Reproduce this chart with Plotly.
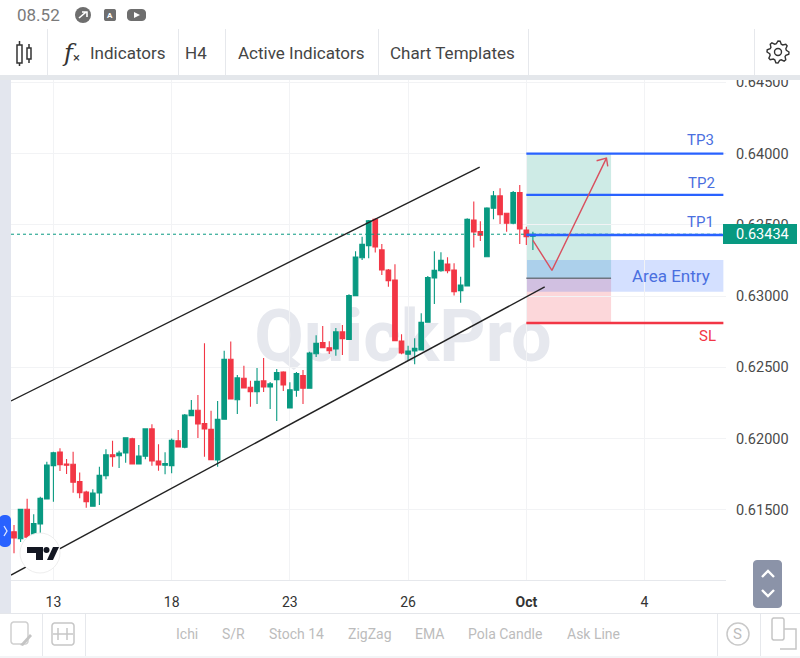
import math
import plotly.graph_objects as go

# ---------- chart data ----------
opens = [0.61345,0.61296,0.61503,0.61327,0.61399,0.61575,0.61809,0.61905,0.61821,0.61819,
         0.61697,0.61624,0.61524,0.61617,0.61739,0.61886,0.61879,0.61898,0.61998,0.61821,
         0.61875,0.62067,0.61842,0.61812,0.61809,0.61984,0.61938,0.62160,0.62198,0.62104,
         0.62064,0.61849,0.62135,0.62556,0.62272,0.62423,0.62360,0.62329,0.62404,0.62361,
         0.62413,0.62467,0.62214,0.62338,0.62441,0.62352,0.62595,0.62673,0.62637,0.62628,
         0.62748,0.62696,0.63003,0.63269,0.63354,0.63539,0.63324,0.63183,0.63113,0.62684,
         0.62591,0.62614,0.62621,0.62816,0.63127,0.63178,0.63225,0.63183,0.63038,0.63071,
         0.63534,0.63452,0.63276,0.63616,0.63703,0.63581,0.63511,0.63726,0.63464,0.63420]
highs = [0.61392,0.61505,0.61577,0.61468,0.61591,0.61837,0.61907,0.61931,0.61856,0.61907,
         0.61760,0.61633,0.61643,0.61802,0.61924,0.61984,0.61914,0.62008,0.62005,0.61954,
         0.62069,0.62099,0.61959,0.61903,0.62000,0.62060,0.62172,0.62270,0.62305,0.62668,
         0.62195,0.62263,0.62616,0.62680,0.62446,0.62511,0.62406,0.62495,0.62565,0.62397,
         0.62488,0.62472,0.62394,0.62467,0.62481,0.62609,0.62725,0.62790,0.62682,0.62776,
         0.62797,0.63012,0.63314,0.63417,0.63534,0.63546,0.63366,0.63190,0.63223,0.62732,
         0.62651,0.62703,0.62879,0.63141,0.63314,0.63307,0.63272,0.63230,0.63136,0.63546,
         0.63663,0.63525,0.63623,0.63738,0.63757,0.63585,0.63738,0.63780,0.63487,0.63452]
lows = [0.61194,0.61273,0.61287,0.61299,0.61334,0.61575,0.61556,0.61772,0.61751,0.61619,
        0.61580,0.61514,0.61524,0.61533,0.61713,0.61802,0.61793,0.61830,0.61821,0.61821,
        0.61854,0.61809,0.61774,0.61748,0.61755,0.61938,0.61931,0.62158,0.62003,0.61872,
        0.61849,0.61802,0.62135,0.62277,0.62172,0.62354,0.62223,0.62242,0.62326,0.62207,
        0.62123,0.62333,0.62214,0.62293,0.62242,0.62352,0.62572,0.62633,0.62593,0.62581,
        0.62586,0.62696,0.63003,0.63253,0.63265,0.63305,0.63148,0.63066,0.62687,0.62591,
        0.62551,0.62521,0.62621,0.62816,0.62944,0.63171,0.63160,0.63003,0.62953,0.63071,
        0.63340,0.63387,0.63276,0.63539,0.63506,0.63452,0.63504,0.63366,0.63359,0.63324]
closes = [0.61301,0.61503,0.61306,0.61402,0.61580,0.61814,0.61900,0.61816,0.61812,0.61692,
          0.61619,0.61556,0.61617,0.61741,0.61886,0.61872,0.61898,0.62005,0.61821,0.61877,
          0.62067,0.61842,0.61814,0.61823,0.61987,0.61940,0.62165,0.62198,0.62102,0.62067,
          0.61851,0.62135,0.62556,0.62277,0.62425,0.62354,0.62329,0.62401,0.62362,0.62383,
          0.62462,0.62375,0.62342,0.62455,0.62352,0.62600,0.62668,0.62637,0.62616,0.62748,
          0.62701,0.63003,0.63274,0.63364,0.63529,0.63345,0.63183,0.63108,0.62687,0.62600,
          0.62614,0.62633,0.62816,0.63129,0.63181,0.63251,0.63178,0.63031,0.63078,0.63539,
          0.63450,0.63427,0.63618,0.63703,0.63571,0.63511,0.63726,0.63471,0.63417,0.63434]
candle_index = list(range(len(opens)))

day_ticks = [6, 24, 42, 60, 78, 96]
day_labels = ["13", "18", "23", "26", "<b>Oct</b>", "4"]
price_ticks = [0.615, 0.62, 0.625, 0.63, 0.635, 0.64, 0.645]

upper_channel_x = [-0.46, 70.9]
upper_channel_y = [0.62263, 0.63906]
lower_channel_x = [-0.46, 80.8]
lower_channel_y = [0.61041, 0.63064]

last_price = 0.63434
tp1, tp2, tp3, sl = 0.63429, 0.63710, 0.64000, 0.62811
entry_line = 0.63125
area_low, area_high = 0.63030, 0.63253
level_x_start, level_x_end = 78.0, 108.0
zone_x_end = 90.9

plan_x = [79.0, 81.9, 90.2]
plan_y = [0.63391, 0.63180, 0.63968]
head_x = [88.7, 90.2, 90.4]
head_y = [0.63950, 0.63968, 0.63910]

# ---------- layout geometry ----------
W, H = 800, 658
L, R, T, B = 11, 726, 80, 580
X_RANGE = [-0.457, 108.4]
Y_RANGE = [0.61006, 0.64517]

def px(x):
    return (x - L) / (R - L)

def py(y):
    return (B - y) / (B - T)

GREEN = "#089981"
RED = "#F23645"
BLUE = "#2962FF"
TEXT = "#454545"
SEP = "#e6e8ec"

shapes, annotations = [], []

def rect(x0, y0, x1, y1, fill, layer="above", line=None):
    shapes.append(dict(type="rect", xref="paper", yref="paper", x0=px(x0), x1=px(x1),
                       y0=py(y1), y1=py(y0), fillcolor=fill, layer=layer,
                       line=dict(width=0 if line is None else 1, color=line or fill)))

def poly(points, fill=None, stroke=None, width=1.5, closed=False, layer="above"):
    d = "M" + " L".join(f"{px(a):.5f},{py(b):.5f}" for a, b in points) + (" Z" if closed else "")
    shapes.append(dict(type="path", xref="paper", yref="paper", path=d, layer=layer,
                       fillcolor=fill or "rgba(0,0,0,0)",
                       line=dict(width=width if stroke else 0, color=stroke or "rgba(0,0,0,0)")))

def rounded(x0, y0, x1, y1, r):
    pts = []
    for cx, cy, a0 in [(x1 - r, y0 + r, -90), (x1 - r, y1 - r, 0), (x0 + r, y1 - r, 90), (x0 + r, y0 + r, 180)]:
        for k in range(7):
            a = math.radians(a0 + k * 15)
            pts.append((cx + r * math.cos(a), cy + r * math.sin(a)))
    return pts

def circle(cx, cy, r, fill=None, stroke=None, width=1.5):
    shapes.append(dict(type="circle", xref="paper", yref="paper", layer="above",
                       x0=px(cx - r), x1=px(cx + r), y0=py(cy + r), y1=py(cy - r),
                       fillcolor=fill or "rgba(0,0,0,0)",
                       line=dict(width=width if stroke else 0, color=stroke or "rgba(0,0,0,0)")))

def text(x, y, s, size=14, color=TEXT, anchor="center", family="Roboto"):
    annotations.append(dict(xref="paper", yref="paper", x=px(x), y=py(y), text=s, showarrow=False,
                            xanchor=anchor, yanchor="middle", align=anchor,
                            font=dict(size=size, color=color, family=family)))

# watermark under the candles
shapes.append(dict(type="rect", xref="paper", yref="paper", layer="below",
                   x0=px(240), x1=px(566), y0=py(371), y1=py(291),
                   fillcolor="rgba(0,0,0,0)", line=dict(width=0),
                   label=dict(text="<b>QuickPro</b>", textposition="middle center",
                              font=dict(size=72, color="#e6e8ee", family="Roboto"))))

# target / stop zones under the candles
shapes.append(dict(type="rect", xref="x", yref="y", layer="below", x0=level_x_start, x1=zone_x_end,
                   y0=entry_line, y1=tp3, fillcolor="rgba(8,153,129,0.20)", line=dict(width=0)))
shapes.append(dict(type="rect", xref="x", yref="y", layer="below", x0=level_x_start, x1=zone_x_end,
                   y0=sl, y1=entry_line, fillcolor="rgba(242,54,69,0.20)", line=dict(width=0)))
shapes.append(dict(type="rect", xref="x", yref="y", layer="below", x0=level_x_start, x1=level_x_end,
                   y0=area_low, y1=area_high, fillcolor="rgba(41,98,255,0.20)", line=dict(width=0)))

# app chrome: top
rect(0, 0, 800, T - 5, "#ffffff")
rect(0, T - 5, 800, T, "#e4e7eb")
rect(0, T, L, 614, "#e3e6ee")
for sx in [47, 178, 225, 378, 528, 754]:
    rect(sx, 29, sx + 1, 75, SEP)
text(15, 15, "08.52", 17, "#7a7a7a", "left")
text(88, 53, "Indicators", 17, TEXT, "left")
text(183, 53, "H4", 17, TEXT, "left")
text(236, 53, "Active Indicators", 17, TEXT, "left")
text(388, 53, "Chart Templates", 17, TEXT, "left")
text(69, 53, "<i>f</i>", 24, "#333333", "center", "DejaVu Serif")
text(76, 58, "×", 13, "#333333", "center")
# status icons
circle(83, 15, 8, "#6e6e6e")
poly([(79, 18), (86, 12), (82, 12), (87, 12), (87, 17)], None, "#ffffff", 1.6)
poly(rounded(104, 9, 116, 21, 2), "#6e6e6e", closed=True)
text(110, 15, "<b>A</b>", 8, "#ffffff")
poly(rounded(127, 9, 146, 21, 4), "#6e6e6e", closed=True)
poly([(134, 12), (134, 18), (140, 15)], "#ffffff", closed=True)
# candle icon
poly([(17, 45), (22, 45), (22, 63), (17, 63)], None, "#333333", 1.5, True)
poly([(19.5, 41), (19.5, 45)], None, "#333333", 1.5)
poly([(19.5, 63), (19.5, 66)], None, "#333333", 1.5)
poly([(27, 48), (31, 48), (31, 59), (27, 59)], None, "#333333", 1.5, True)
poly([(29, 44), (29, 48)], None, "#333333", 1.5)
poly([(29, 59), (29, 63)], None, "#333333", 1.5)
# gear icon
gear = []
for k in range(32):
    a = 2 * math.pi * k / 32
    r = 11 if (k % 4) in (0, 1) else 8.5
    gear.append((778 + r * math.cos(a), 52 + r * math.sin(a)))
poly(gear, None, "#333333", 1.4, True)
circle(778, 52, 3.5, None, "#333333", 1.4)

# left blue tab and tradingview badge
poly(rounded(-1, 515, 11, 547, 5), BLUE, closed=True)
poly([(4, 526), (7, 531), (4, 536)], None, "#dfe7ff", 1.3)
circle(40, 553, 20, "#ffffff", "#eeeeee", 1)
poly([(27, 547), (43, 547), (43, 560), (36, 560), (36, 553), (27, 553)], "#131722", closed=True)
circle(46.5, 550, 3, "#131722")
poly([(47, 560), (53, 547), (59, 547), (53, 560)], "#131722", closed=True)

# price tag
rect(723, 224, 797, 244, GREEN)
text(762, 234.5, "0.63434", 14.5, "#ffffff")

# zone labels
text(700, 140, "TP3", 15, "#4a6fe0")
text(701, 183, "TP2", 15, "#4a6fe0")
text(700, 222, "TP1", 15, "#4a6fe0")
text(671, 276, "Area Entry", 17, "#4a6fe0")
text(707, 336, "SL", 15, RED)

# scale button
poly(rounded(753, 560, 782, 608, 4), "#8b93a8", closed=True)
poly([(762, 577), (768, 571), (774, 577)], None, "#ffffff", 2.4)
poly([(762, 590), (768, 596), (774, 590)], None, "#ffffff", 2.4)

# bottom bar
rect(0, 613, 800, 614, "#e4e6ea")
rect(0, 656, 800, 658, "#f3f4f6")
for sx in [42, 85, 717, 760]:
    rect(sx, 614, sx + 1, 656, SEP)
for bx, s in [(187, "Ichi"), (233, "S/R"), (296, "Stoch 14"), (369.5, "ZigZag"), (429, "EMA"),
              (505, "Pola Candle"), (593.5, "Ask Line")]:
    text(bx, 634, s, 14, "#bcbcbc")
poly(rounded(11, 622, 28, 644, 3), None, "#cfcfcf", 1.5, True)
poly([(20, 645), (30, 634), (32, 636), (23, 646)], "#c4c4c4", closed=True)
poly(rounded(52, 623, 74, 645, 3), None, "#c6c6c6", 1.5, True)
poly([(58, 628), (58, 640)], None, "#c6c6c6", 1.5)
poly([(67, 628), (67, 640)], None, "#c6c6c6", 1.5)
poly([(53, 634), (73, 634)], None, "#c6c6c6", 1.5)
circle(738, 634, 11, None, "#c9c9c9", 1.5)
text(738, 634, "S", 15, "#bdbdbd")
poly(rounded(772, 618, 784, 640, 2), None, "#c6c6c6", 1.5, True)
poly([(784, 629), (796, 629), (796, 649), (780, 649)], None, "#c6c6c6", 1.5)

fig = go.Figure()
fig.add_trace(go.Candlestick(
    x=candle_index, open=opens, high=highs, low=lows, close=closes,
    increasing=dict(line=dict(color=GREEN, width=1.1), fillcolor=GREEN),
    decreasing=dict(line=dict(color=RED, width=1.1), fillcolor=RED),
    whiskerwidth=0, showlegend=False, hoverinfo="skip"))

def line(xs, ys, color, width, dash="solid"):
    fig.add_trace(go.Scatter(x=xs, y=ys, mode="lines", showlegend=False, hoverinfo="skip",
                             line=dict(color=color, width=width, dash=dash)))

line([X_RANGE[0], level_x_end], [last_price, last_price], GREEN, 1, "dot")
line(upper_channel_x, upper_channel_y, "#222222", 1.4)
line(lower_channel_x, lower_channel_y, "#222222", 1.4)
line([level_x_start, zone_x_end], [entry_line, entry_line], "#6f7480", 1.3)
for lvl in (tp1, tp2, tp3):
    line([level_x_start, level_x_end], [lvl, lvl], BLUE, 2.4)
line([level_x_start, level_x_end], [sl, sl], RED, 2.4)
line(plan_x, plan_y, "#d9505f", 1.4)
line(head_x, head_y, "#d9505f", 1.4)

fig.update_layout(
    width=W, height=H, autosize=False,
    margin=dict(l=L, r=W - R, t=T, b=H - B),
    paper_bgcolor="#ffffff", plot_bgcolor="#ffffff",
    boxgap=0.3, boxgroupgap=0,
    shapes=shapes, annotations=annotations, showlegend=False, hovermode=False,
    font=dict(family="Roboto", color=TEXT),
    xaxis=dict(range=X_RANGE, rangeslider=dict(visible=False), tickmode="array", automargin=False,
               tickvals=day_ticks, ticktext=day_labels, showgrid=True, gridcolor="#f2f3f5",
               gridwidth=1, zeroline=False, showline=True, linecolor="#e6e8ec",
               ticks="outside", ticklen=9, tickcolor="rgba(0,0,0,0)",
               tickfont=dict(size=14, color="#333333", family="Roboto")),
    yaxis=dict(range=Y_RANGE, side="right", tickmode="array", tickvals=price_ticks, automargin=False,
               tickformat=".5f", showgrid=True, gridcolor="#f2f3f5", gridwidth=1,
               zeroline=False, showline=False, ticks="outside", ticklen=6,
               tickcolor="rgba(0,0,0,0)",
               tickfont=dict(size=14.5, color="#4a4a4a", family="Roboto")),
)
fig.write_html("out.html", config={"displayModeBar": False},
               post_script="document.body.style.margin='0';document.documentElement.style.overflow='hidden';")
